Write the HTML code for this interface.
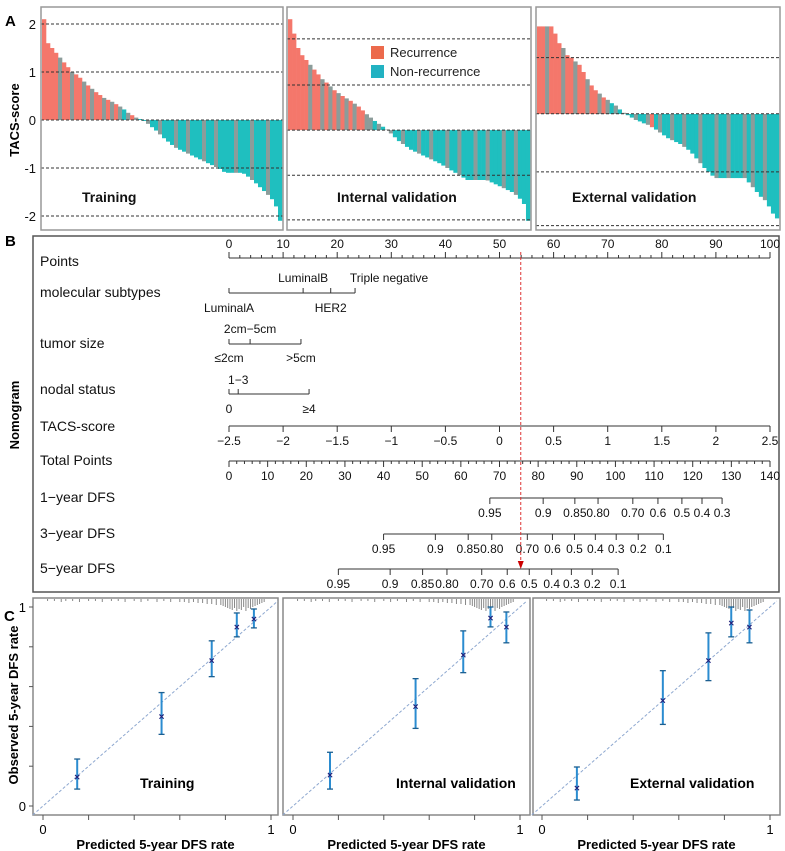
<!DOCTYPE html>
<html><head><meta charset="utf-8">
<style>
html,body{margin:0;padding:0;background:#fff;}
svg{display:block;font-family:"Liberation Sans",Arial,sans-serif;}
.nom{font-family:"Liberation Sans Narrow","Liberation Sans",sans-serif;}
</style></head>
<body>
<svg id="fig" width="785" height="851" viewBox="0 0 785 851" xmlns="http://www.w3.org/2000/svg">
<g id="gA"></g>
<g id="gB"></g>
<g id="gC"></g>
</svg>
<script>
// ---------- Panel A data ----------
const trainScores = [2.1,1.6,1.5,1.4,1.3,1.2,1.1,1.0,0.95,0.88,0.8,0.72,0.65,0.58,0.52,0.46,0.42,0.38,0.33,0.28,0.22,0.15,0.1,0.05,0.02,-0.02,-0.08,-0.15,-0.22,-0.3,-0.38,-0.45,-0.52,-0.58,-0.62,-0.66,-0.7,-0.74,-0.78,-0.82,-0.86,-0.9,-0.94,-0.98,-1.02,-1.08,-1.1,-1.1,-1.1,-1.1,-1.12,-1.18,-1.25,-1.32,-1.4,-1.48,-1.56,-1.65,-1.8,-2.1];
const trainGroups = "RRRRGRRGRRGRGRRGRGRGNGRGNNGNNGNNNGNNGNNNGNNGNNNNGNNNGNNNGNNN";
const internalScores = [2.1,1.8,1.5,1.35,1.25,1.15,1.05,0.95,0.85,0.78,0.7,0.62,0.56,0.5,0.45,0.4,0.34,0.28,0.2,0.12,0.05,-0.02,-0.08,-0.14,-0.2,-0.28,-0.36,-0.44,-0.5,-0.56,-0.62,-0.66,-0.7,-0.74,-0.78,-0.82,-0.86,-0.9,-0.95,-1.0,-1.05,-1.1,-1.15,-1.2,-1.25,-1.25,-1.25,-1.25,-1.25,-1.26,-1.3,-1.34,-1.38,-1.42,-1.46,-1.5,-1.56,-1.64,-1.75,-2.1];
const internalGroups = "RRRRRGRRGRGRGRGRGRRGGNGNGGNNGNNNGNNGNNNGNNGNNNGNNGNNNGNNGNNN";
const externalScores = [1.95,1.95,1.95,1.95,1.8,1.6,1.5,1.35,1.3,1.22,1.15,1.0,0.85,0.72,0.62,0.55,0.47,0.42,0.35,0.3,0.22,0.15,0.1,0.05,0.0,-0.03,-0.07,-0.1,-0.15,-0.2,-0.26,-0.32,-0.38,-0.42,-0.46,-0.5,-0.56,-0.62,-0.7,-0.8,-0.9,-1.0,-1.08,-1.16,-1.21,-1.21,-1.21,-1.21,-1.21,-1.21,-1.21,-1.21,-1.3,-1.4,-1.5,-1.6,-1.67,-1.8,-1.95,-2.05];
const externalGroups = "RRGRRRGRRGRRGRRGRGNGNGNNGNNGRNGNNGNNGNNNGNNNGNNGNNNGNGNNGNNN";
const trainRefLines = [2,1,0,-1,-2];
const internalRefLines = [1.69,0.73,-0.21,-1.15,-2.08];
const externalRefLines = [1.3,0.13,-1.08,-2.2];
const aTicks = [2,1,0,-1,-2];

// ---------- Panel C data ----------
const trainPred = [0.15,0.52,0.74,0.85,0.925];
const trainObs  = [0.146,0.45,0.73,0.90,0.94];
const trainLo   = [0.085,0.36,0.65,0.85,0.895];
const trainHi   = [0.236,0.57,0.83,0.97,0.99];
const intPred = [0.163,0.54,0.75,0.87,0.94];
const intObs  = [0.156,0.50,0.76,0.945,0.90];
const intLo   = [0.085,0.39,0.67,0.90,0.82];
const intHi   = [0.27,0.64,0.88,1.0,0.975];
const extPred = [0.153,0.53,0.73,0.83,0.91];
const extObs  = [0.09,0.53,0.73,0.92,0.90];
const extLo   = [0.03,0.41,0.63,0.85,0.82];
const extHi   = [0.196,0.68,0.87,1.0,0.985];
const rugVals = [0.02,0.05,0.08,0.1,0.13,0.16,0.2,0.23,0.26,0.3,0.33,0.36,0.4,0.43,0.46,0.5,0.53,0.56,0.6,0.62,0.64,0.66,0.68,0.7,0.72,0.74,0.76,0.78,0.79,0.8,0.81,0.82,0.83,0.84,0.85,0.86,0.87,0.88,0.89,0.9,0.91,0.92,0.93,0.94,0.95,0.96,0.97];
const rugLens = [2,2,3,2,2,3,2,2,3,2,2,3,2,3,2,3,2,3,3,3,4,3,4,4,5,5,6,6,7,8,9,10,11,9,12,10,11,8,12,9,10,8,7,6,5,4,3];
const cTicks = [0,0.2,0.4,0.6,0.8,1];

// ---------- Nomogram data ----------
const pointsTicks = [0,10,20,30,40,50,60,70,80,90,100];
const molPts = [0,13.7,18.8,23.3];
const molLabels = ["LuminalA","LuminalB","HER2","Triple negative"];
const sizePts = [0,3.9,13.3];
const sizeLabels = ["≤2cm","2cm−5cm",">5cm"];
const nodalPts = [0,1.7,14.8];
const nodalLabels = ["0","1−3","≥4"];
const tacsTicks = [-2.5,-2,-1.5,-1,-0.5,0,0.5,1,1.5,2,2.5];
const tacsLabels = ["-2.5","-2","-1.5","-1","-0.5","0","0.5","1","1.5","2","2.5"];
const totalTicks = [0,10,20,30,40,50,60,70,80,90,100,110,120,130,140];
const dfs1Pts = [67.5,81.3,89.5,95.5,104.5,111,117.2,122.4,127.6];
const dfs1Labels = ["0.95","0.9","0.85","0.80","0.70","0.6","0.5","0.4","0.3"];
const dfs3Pts = [40,53.4,61.9,68,77.2,83.7,89.4,94.8,100.2,105.9,112.4];
const dfs3Labels = ["0.95","0.9","0.85","0.80","0.70","0.6","0.5","0.4","0.3","0.2","0.1"];
const dfs5Pts = [28.3,41.7,50.1,56.4,65.4,72,77.7,83.5,88.6,94,100.7];
const dfs5Labels = ["0.95","0.9","0.85","0.80","0.70","0.6","0.5","0.4","0.3","0.2","0.1"];
const exampleTotal = 75.5;

const NS="http://www.w3.org/2000/svg";
function mk(parent,tag,attrs,text){const e=document.createElementNS(NS,tag);for(const k in attrs)e.setAttribute(k,attrs[k]);if(text!==undefined)e.textContent=text;parent.appendChild(e);return e;}

// ================= Panel A =================
const gA=document.getElementById('gA');
const yA=v=>120-48*v;
const COLORS={R:"#f4776b",N:"#1fbfbf",G:"#8c9c9a"};
function waterfall(x0,x1,scores,groups,base,refs,label,lx,name){
  const g=mk(gA,'g',{});
  
  
  const bw=(x1-x0-2)/scores.length;
  scores.forEach((v,i)=>{
    const y1=yA(v),y2=yA(base);
    const r=mk(g,'rect',{x:x0+1+i*bw,y:Math.min(y1,y2),width:bw+0.3,height:Math.abs(y2-y1),fill:COLORS[groups[i]]||COLORS.N});
    
    
  });
  refs.forEach(v=>{const l=mk(g,'line',{x1:x0,x2:x1,y1:yA(v),y2:yA(v),stroke:"#333","stroke-width":1,"stroke-dasharray":"3,2"});
    
    });
  const b=mk(g,'rect',{x:x0,y:7,width:x1-x0,height:223,fill:"none",stroke:"#999","stroke-width":1.5});
  
  
  const t=mk(g,'text',{x:lx,y:202,"font-size":14,"font-weight":"bold",fill:"#111"},label);
  
  
}
waterfall(41,283,trainScores,trainGroups,0,trainRefLines,"Training",82,"training-waterfall");
waterfall(287,531,internalScores,internalGroups,-0.21,internalRefLines,"Internal validation",337,"internal-waterfall");
waterfall(536,780,externalScores,externalGroups,0.125,externalRefLines,"External validation",572,"external-waterfall");
aTicks.forEach(v=>{const t=mk(gA,'text',{x:36,y:yA(v)+5,"font-size":13,"text-anchor":"end",fill:"#111"},String(v).replace('-','-'));
  
  });
{const t=mk(gA,'text',{x:0,y:0,"font-size":13,"font-weight":"bold","text-anchor":"middle",transform:"translate(19,120) rotate(-90)"},"TACS-score");
 }
{const t=mk(gA,'text',{x:5,y:26,"font-size":15,"font-weight":"bold"},"A");}
// legend
{const lg=mk(gA,'g',{});
 const r1=mk(lg,'rect',{x:371,y:46,width:13,height:13,fill:"#ec6a4c"});
 const t1=mk(lg,'text',{x:390,y:57,"font-size":13,fill:"#222"},"Recurrence");
 const r2=mk(lg,'rect',{x:371,y:65,width:13,height:13,fill:"#22b2c2"});
 const t2=mk(lg,'text',{x:390,y:76,"font-size":13,fill:"#222"},"Non-recurrence");}

// ================= Panel B =================
const gB=document.getElementById('gB');
gB.setAttribute('class','nom');
const px=p=>229+p*(770-229)/100;
const tx=t=>229+t*(770-229)/140;
const txc=v=>229+(v+2.5)*(770-229)/5;
{const b=mk(gB,'rect',{x:33,y:236,width:746,height:356,fill:"none",stroke:"#555","stroke-width":1.5});}
{const t=mk(gB,'text',{x:5,y:246,"font-size":15,"font-weight":"bold","font-family":"Liberation Sans"},"B");}
{const t=mk(gB,'text',{x:0,y:0,"font-size":13,"font-weight":"bold","text-anchor":"middle","font-family":"Liberation Sans",transform:"translate(19,415) rotate(-90)"},"Nomogram");}
function rowLabel(y,s){const t=mk(gB,'text',{x:40,y:y+5,"font-size":14,fill:"#111"},s);}
function hline(x1,x2,y){const l=mk(gB,'line',{x1,x2,y1:y,y2:y,stroke:"#333","stroke-width":1});}
function tick(x,y1,y2){const l=mk(gB,'line',{x1:x,x2:x,y1,y2,stroke:"#333","stroke-width":1});}
function lab(x,y,s){const t=mk(gB,'text',{x,y,"font-size":12,"text-anchor":"middle",fill:"#111"},s);}
// Points
rowLabel(261,"Points");hline(px(0),px(100),258);
for(let p=0;p<=100;p+=2){tick(px(p),258,p%10===0?252:255);}
pointsTicks.forEach(p=>lab(px(p),248,String(p)));
// molecular
rowLabel(292,"molecular subtypes");hline(px(molPts[0]),px(molPts[3]),293);
molPts.forEach(p=>tick(px(p),293,288));
lab(px(molPts[0]),312,molLabels[0]);lab(px(molPts[1]),282,molLabels[1]);lab(px(molPts[2]),312,molLabels[2]);lab(px(molPts[3])+34,282,molLabels[3]);
// tumor size
rowLabel(343,"tumor size");hline(px(sizePts[0]),px(sizePts[2]),344);
sizePts.forEach(p=>tick(px(p),344,339));
lab(px(sizePts[0]),362,sizeLabels[0]);lab(px(sizePts[1]),333,sizeLabels[1]);lab(px(sizePts[2]),362,sizeLabels[2]);
// nodal
rowLabel(389,"nodal status");hline(px(nodalPts[0]),px(nodalPts[2]),394);
nodalPts.forEach(p=>tick(px(p),394,389));
lab(px(nodalPts[0]),413,nodalLabels[0]);lab(px(nodalPts[1]),384,nodalLabels[1]);lab(px(nodalPts[2]),413,nodalLabels[2]);
// TACS
rowLabel(426,"TACS-score");hline(txc(-2.5),txc(2.5),426);
tacsTicks.forEach((v,i)=>{tick(txc(v),426,432);lab(txc(v),445,tacsLabels[i].replace('-','−'));});
// Total
rowLabel(460,"Total Points");hline(tx(0),tx(140),461);
for(let p=0;p<=140;p+=2){tick(tx(p),461,p%10===0?467:464);}
totalTicks.forEach(p=>lab(tx(p),480,String(p)));
// DFS
function dfsRow(y,label,pts,labels){rowLabel(y-1,label);hline(tx(pts[0]),tx(pts[pts.length-1]),y);
  pts.forEach((p,i)=>{tick(tx(p),y,y+6);lab(tx(p),y+19,labels[i]);});}
dfsRow(498,"1−year DFS",dfs1Pts,dfs1Labels);
dfsRow(534,"3−year DFS",dfs3Pts,dfs3Labels);
dfsRow(569,"5−year DFS",dfs5Pts,dfs5Labels);
{const xr=tx(exampleTotal);
 const l=mk(gB,'line',{x1:xr,x2:xr,y1:252,y2:562,stroke:"#d33","stroke-width":1,"stroke-dasharray":"3,2"});
 const a=mk(gB,'path',{d:`M${xr-3},561 L${xr+3},561 L${xr},569 Z`,fill:"#c00"});}

// ================= Panel C =================
const gC=document.getElementById('gC');
const cy=v=>806-199*v;
function calib(bx0,bx1,x0,x1,pred,obs,lo,hi,label,lx,name){
  const g=mk(gC,'g',{});
  
  
  const cx=v=>x0+v*(x1-x0);
  const b=mk(g,'rect',{x:bx0,y:598,width:bx1-bx0,height:217,fill:"none",stroke:"#888","stroke-width":1.5});
  
  // rug
  rugVals.forEach((v,i)=>{const l=mk(g,'line',{x1:cx(v),x2:cx(v),y1:599,y2:599+rugLens[i],stroke:"#888","stroke-width":1});
    });
  // diagonal
  const d=mk(g,'line',{x1:cx(-0.045),y1:cy(-0.045),x2:cx(1.03),y2:cy(1.03),stroke:"#8ea8d0","stroke-width":1,"stroke-dasharray":"3,2"});
  
  // x ticks
  cTicks.forEach(v=>{const t=mk(g,'line',{x1:cx(v),x2:cx(v),y1:815,y2:820,stroke:"#555"});});
  const t0=mk(g,'text',{x:cx(0),y:834,"font-size":13,"text-anchor":"middle"},"0");
  const t1=mk(g,'text',{x:cx(1),y:834,"font-size":13,"text-anchor":"middle"},"1");
  const xt=mk(g,'text',{x:(bx0+bx1)/2,y:849,"font-size":13,"font-weight":"bold","text-anchor":"middle"},"Predicted 5-year DFS rate");
  
  pred.forEach((p,i)=>{
    const x=cx(p);
    const e=mk(g,'line',{x1:x,x2:x,y1:cy(lo[i]),y2:cy(hi[i]),stroke:"#2b8cd0","stroke-width":2});
    
    [lo[i],hi[i]].forEach(v=>{const c=mk(g,'line',{x1:x-3,x2:x+3,y1:cy(v),y2:cy(v),stroke:"#1c5f90","stroke-width":1.3});});
    const m=mk(g,'text',{x:x,y:cy(obs[i])+3.5,"font-size":10,"text-anchor":"middle",fill:"#20207a","font-weight":"bold"},"×");
    
  });
  const tl=mk(g,'text',{x:lx,y:788,"font-size":14,"font-weight":"bold"},label);
  
}
calib(33,278,43,271,trainPred,trainObs,trainLo,trainHi,"Training",140,"training-calibration");
calib(283,530,293,520,intPred,intObs,intLo,intHi,"Internal validation",396,"internal-calibration");
calib(533,780,542,770,extPred,extObs,extLo,extHi,"External validation",630,"external-calibration");
cTicks.forEach(v=>{const t=mk(gC,'line',{x1:29,x2:33,y1:cy(v),y2:cy(v),stroke:"#555"});});
{const t=mk(gC,'text',{x:26,y:cy(1)+5,"font-size":13,"text-anchor":"end"},"1");}
{const t=mk(gC,'text',{x:26,y:cy(0)+5,"font-size":13,"text-anchor":"end"},"0");}
{const t=mk(gC,'text',{x:0,y:0,"font-size":13,"font-weight":"bold","text-anchor":"middle",transform:"translate(18,705) rotate(-90)"},"Observed 5-year DFS rate");}
{const t=mk(gC,'text',{x:4,y:621,"font-size":15,"font-weight":"bold"},"C");}
</script>
</body></html>
